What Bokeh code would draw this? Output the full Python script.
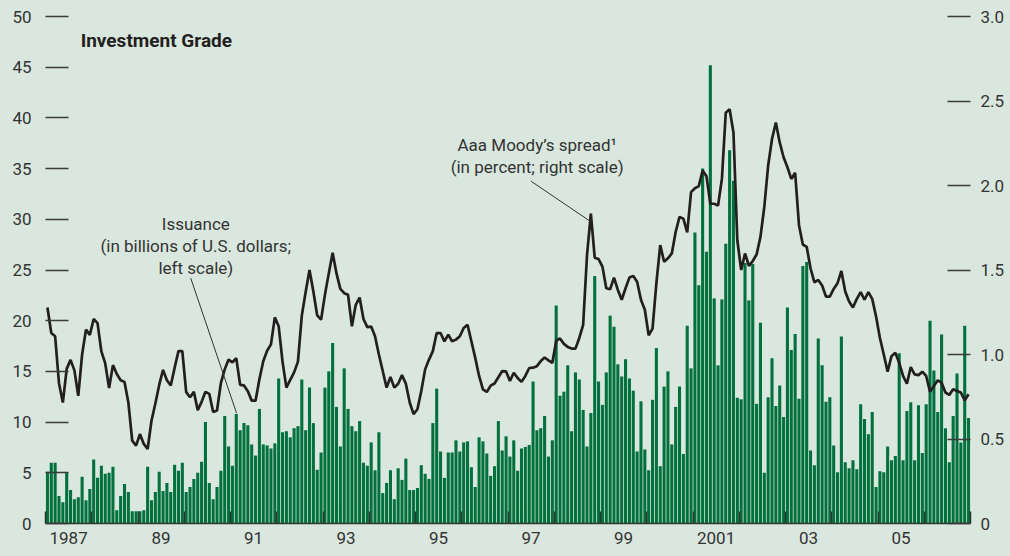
from bokeh.plotting import figure
from bokeh.models import Range1d, LinearAxis, FixedTicker, ColumnDataSource
from bokeh.embed import file_html
from bokeh.resources import INLINE
from bokeh.core.properties import value

# ---------------- data (monthly, Jan 1987 - Dec 2006) ----------------
start_year = 1987
end_year = 2007

issuance = [  # billions of U.S. dollars, left scale
    5.1, 6.0, 6.0, 2.7, 2.1, 5.0, 3.3, 2.4, 2.6, 4.6, 2.3, 3.4,          # 1987
    6.3, 4.5, 5.7, 4.9, 5.0, 5.6, 1.3, 2.7, 3.9, 3.1, 1.2, 1.2,          # 1988
    1.2, 1.3, 5.6, 2.3, 3.1, 5.1, 3.2, 4.0, 3.1, 5.8, 5.2, 6.0,          # 1989
    3.1, 3.6, 4.4, 5.0, 6.1, 10.0, 4.0, 2.4, 3.6, 5.2, 10.6, 7.6,        # 1990
    5.7, 10.8, 9.2, 9.9, 9.7, 7.8, 6.7, 11.3, 7.8, 7.7, 7.4, 7.9,        # 1991
    14.3, 9.0, 9.1, 8.5, 9.4, 9.6, 14.2, 9.2, 13.4, 9.9, 5.3, 7.0,       # 1992
    13.4, 15.0, 17.8, 11.5, 7.6, 15.3, 11.3, 9.6, 9.1, 10.1, 6.0, 5.7,   # 1993
    8.0, 5.25, 9.0, 3.0, 4.0, 5.25, 2.4, 5.45, 4.3, 6.4, 3.3, 3.3,       # 1994
    3.5, 5.75, 4.9, 4.4, 9.9, 13.3, 7.1, 4.5, 7.0, 7.0, 8.2, 7.1,        # 1995
    8.0, 8.1, 5.55, 3.6, 8.5, 8.1, 6.9, 4.7, 5.65, 10.1, 7.2, 8.6,       # 1996
    6.6, 8.2, 5.2, 7.4, 7.55, 7.75, 14.0, 9.2, 9.4, 10.6, 6.6, 8.2,      # 1997
    21.5, 12.6, 13.0, 15.6, 9.1, 14.9, 14.2, 11.2, 7.6, 10.9, 24.4, 14.0,  # 1998
    11.7, 14.9, 20.5, 19.4, 15.7, 14.5, 16.2, 14.3, 13.1, 7.1, 12.05, 7.3,  # 1999
    5.25, 12.2, 17.3, 5.65, 13.5, 15.0, 7.8, 11.5, 13.5, 6.85, 19.5, 15.3,  # 2000
    28.7, 23.5, 35.0, 26.8, 45.2, 22.2, 15.6, 22.1, 27.6, 36.8, 33.8, 12.4,  # 2001
    12.25, 25.7, 22.0, 25.6, 11.8, 19.8, 5.0, 12.45, 16.3, 11.6, 13.6, 10.5,  # 2002
    21.3, 17.1, 18.7, 12.3, 25.4, 25.8, 7.2, 5.75, 18.25, 15.6, 12.0, 12.45,  # 2003
    7.7, 5.05, 18.45, 6.05, 5.45, 6.25, 5.35, 11.75, 10.3, 8.8, 11.0, 3.6,    # 2004
    5.15, 5.05, 7.6, 6.25, 6.65, 16.8, 6.25, 11.1, 11.95, 6.25, 11.65, 6.95,  # 2005
    11.75, 20.0, 15.1, 11.0, 18.65, 9.4, 6.05, 10.6, 14.8, 8.0, 19.5, 10.4,   # 2006
]

spread = [  # Aaa Moody's spread, percent, right scale
    1.278, 1.127, 1.108, 0.83, 0.716, 0.915, 0.968, 0.906, 0.755, 1.0, 1.147, 1.116,   # 1987
    1.21, 1.186, 1.018, 0.947, 0.802, 0.937, 0.885, 0.848, 0.838, 0.716, 0.49, 0.461,  # 1988
    0.529, 0.471, 0.441, 0.608, 0.71, 0.82, 0.909, 0.848, 0.817, 0.921, 1.02, 1.02,    # 1989
    0.777, 0.747, 0.779, 0.671, 0.72, 0.779, 0.767, 0.66, 0.669, 0.83, 0.912, 0.97,    # 1990
    0.954, 0.978, 0.82, 0.817, 0.782, 0.727, 0.727, 0.853, 0.96, 1.022, 1.06, 1.22,    # 1991
    1.167, 0.958, 0.804, 0.85, 0.894, 0.958, 1.23, 1.37, 1.5, 1.373, 1.231, 1.206,     # 1992
    1.353, 1.48, 1.602, 1.48, 1.388, 1.363, 1.353, 1.167, 1.294, 1.337, 1.21, 1.162,   # 1993
    1.165, 1.108, 1.0, 0.902, 0.804, 0.867, 0.804, 0.827, 0.878, 0.827, 0.716, 0.647,  # 1994
    0.676, 0.784, 0.912, 0.97, 1.02, 1.127, 1.127, 1.078, 1.118, 1.078, 1.088, 1.108,  # 1995
    1.157, 1.176, 1.078, 0.98, 0.873, 0.794, 0.778, 0.816, 0.828, 0.865, 0.902, 0.9,   # 1996
    0.843, 0.892, 0.861, 0.838, 0.873, 0.92, 0.922, 0.931, 0.961, 0.982, 0.965, 0.95,  # 1997
    1.08, 1.095, 1.063, 1.045, 1.035, 1.035, 1.098, 1.176, 1.588, 1.833, 1.573, 1.565,  # 1998
    1.52, 1.392, 1.386, 1.455, 1.382, 1.324, 1.392, 1.455, 1.465, 1.431, 1.324, 1.265,  # 1999
    1.114, 1.153, 1.422, 1.647, 1.549, 1.569, 1.598, 1.725, 1.814, 1.804, 1.722, 1.961,  # 2000
    1.984, 1.996, 2.088, 2.055, 1.892, 1.892, 1.882, 2.039, 2.431, 2.451, 2.314, 1.676,  # 2001
    1.5, 1.598, 1.525, 1.553, 1.592, 1.696, 1.873, 2.118, 2.275, 2.373, 2.255, 2.167,   # 2002
    2.108, 2.039, 2.075, 1.765, 1.651, 1.637, 1.51, 1.427, 1.441, 1.408, 1.343, 1.343,  # 2003
    1.388, 1.422, 1.494, 1.373, 1.314, 1.278, 1.329, 1.369, 1.324, 1.369, 1.329, 1.225,  # 2004
    1.098, 1.0, 0.898, 0.99, 1.01, 0.951, 0.873, 0.827, 0.925, 0.882, 0.878, 0.898,     # 2005
    0.873, 0.78, 0.814, 0.847, 0.833, 0.775, 0.761, 0.794, 0.784, 0.775, 0.729, 0.765,  # 2006
]

left_ticks = [0, 5, 10, 15, 20, 25, 30, 35, 40, 45, 50]
right_ticks = [0, 0.5, 1.0, 1.5, 2.0, 2.5, 3.0]
right_tick_labels = ["0", "0.5", "1.0", "1.5", "2.0", "2.5", "3.0"]
year_label_years = [1987, 1989, 1991, 1993, 1995, 1997, 1999, 2001, 2003, 2005]
year_labels = ["1987", "89", "91", "93", "95", "97", "99", "2001", "03", "05"]

title_text = "Investment Grade"
issuance_note = ["Issuance", "(in billions of U.S. dollars;", "left scale)"]
spread_note = ["Aaa Moody\u2019s spread\u00b9", "(in percent; right scale)"]

# ---------------- styling ----------------
BG = "#dae7de"
GREEN = "#00703c"
INK = "#231f20"
TXT = "#333333"
FONT = "Liberation Sans Narrow, Arial Narrow, Roboto, sans-serif"

xs = [start_year + (i + 0.5) / 12.0 for i in range(len(issuance))]
src = ColumnDataSource(dict(x=xs, issuance=issuance, spread=spread))

p = figure(width=1010, height=556, output_backend="svg", toolbar_location=None,
           x_range=Range1d(start_year, end_year), y_range=Range1d(0, 50),
           min_border_left=45, min_border_right=40, min_border_top=16, min_border_bottom=33,
           background_fill_color=BG, border_fill_color=BG, outline_line_color=None)
p.xgrid.visible = False
p.ygrid.visible = False
p.extra_y_ranges = {"right": Range1d(0, 3.0)}

# bars and line
p.vbar(x="x", top="issuance", bottom=0, width=0.8 / 12, source=src,
       fill_color=GREEN, line_color=None)
p.line(x="x", y="spread", source=src, y_range_name="right",
       line_color=INK, line_width=2.7)

# left axis
ya = p.yaxis[0]
ya.ticker = FixedTicker(ticks=left_ticks)
ya.axis_line_color = None
ya.major_tick_in = 23
ya.major_tick_out = 0
ya.minor_tick_line_color = None
ya.major_tick_line_color = "#3a3a3a"
ya.major_tick_line_width = 1.3
ya.major_label_standoff = 14
ya.major_label_text_font = FONT
ya.major_label_text_font_size = "17px"
ya.major_label_text_color = TXT

# right axis
ra = LinearAxis(y_range_name="right", ticker=FixedTicker(ticks=right_ticks))
ra.major_label_overrides = {t: s for t, s in zip(right_ticks, right_tick_labels)}
ra.axis_line_color = None
ra.major_tick_in = 23
ra.major_tick_out = 0
ra.minor_tick_line_color = None
ra.major_tick_line_color = "#3a3a3a"
ra.major_tick_line_width = 1.3
ra.major_label_standoff = 10
ra.major_label_text_font = FONT
ra.major_label_text_font_size = "17px"
ra.major_label_text_color = TXT
p.add_layout(ra, "right")

# bottom axis: year boundary ticks, labels centred mid-year
xa = p.xaxis[0]
label_pos = [y + 0.5 for y in year_label_years]
xa.ticker = FixedTicker(ticks=label_pos, minor_ticks=list(range(start_year, end_year + 1)))
xa.major_label_overrides = {t: s for t, s in zip(label_pos, year_labels)}
xa.major_tick_line_color = None
xa.major_tick_in = 0
xa.major_tick_out = 0
xa.minor_tick_in = 12
xa.minor_tick_out = 0
xa.minor_tick_line_color = "#333333"
xa.minor_tick_line_width = 1.5
xa.axis_line_color = "#333333"
xa.axis_line_width = 1.5
xa.major_label_standoff = 8
xa.major_label_text_font = FONT
xa.major_label_text_font_size = "17px"
xa.major_label_text_color = TXT

# title
p.text(x=[1987.76], y=[47.6], text=[title_text], text_align="left", text_baseline="middle",
       text_font=value(FONT), text_font_size="19px", text_font_style="bold", text_color=INK)

# issuance annotation
p.text(x=[1990.25] * 3, y=[29.5, 27.35, 25.2], text=issuance_note, text_align="center",
       text_baseline="middle", text_font=value(FONT), text_font_size="17px", text_color=TXT)
p.segment(x0=[1990.14], y0=[24.2], x1=[1991.13], y1=[10.9], line_color=TXT, line_width=1)

# spread annotation
p.text(x=[1997.63] * 2, y=[2.237, 2.108], text=spread_note, text_align="center",
       text_baseline="middle", text_font=value(FONT), text_font_size="17px", text_color=TXT,
       y_range_name="right")
p.segment(x0=[1997.50], y0=[2.025], x1=[1998.80], y1=[1.784], line_color=TXT, line_width=1,
          y_range_name="right")

html = file_html(p, INLINE, title="Investment Grade")
html = html.replace("</head>", "<style>body{background-color:%s;}</style></head>" % BG, 1)
open("out.html", "w").write(html)
